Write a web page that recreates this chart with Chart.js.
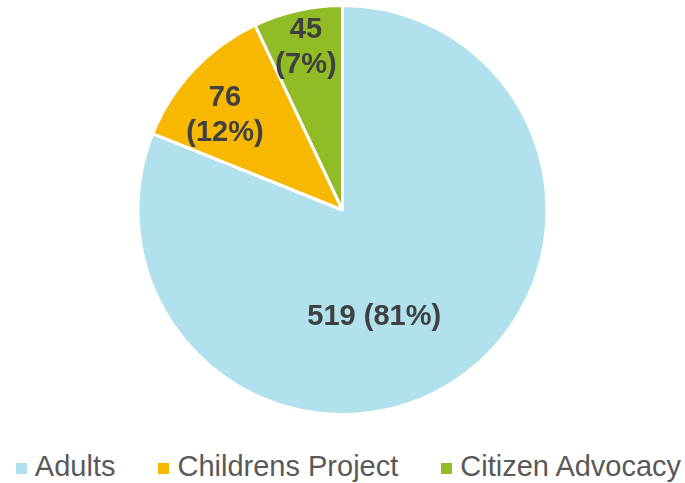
<!DOCTYPE html>
<html>
<head>
<meta charset="utf-8">
<script src="https://cdn.jsdelivr.net/npm/chart.js@4.4.1/dist/chart.umd.min.js"></script>
<style>
  html, body { margin: 0; padding: 0; background: #fff; }
  #wrap { width: 685px; height: 483px; position: relative; }
  #chartBox { width: 685px; height: 420px; position: relative; }
  #legend {
    display: flex; justify-content: center; align-items: center;
    height: 63px; padding-left: 12px; padding-top: 29px; box-sizing: border-box;
    font-family: "Liberation Sans", Arial, sans-serif; font-size: 29px; color: #595959;
  }
  #legend .item { display: flex; align-items: center; margin-right: 43px; }
  #legend .item:last-child { margin-right: 0; }
  #legend .box { width: 11px; height: 11px; margin-right: 8px; margin-top: 4px; }
</style>
</head>
<body>
<div id="wrap">
  <div id="chartBox"><canvas id="pieChart"></canvas></div>
  <div id="legend"></div>
</div>
<script>
const categories = ['Adults', 'Childrens Project', 'Citizen Advocacy'];
const counts = [519, 76, 45];
const colors = ['#B1E1EC', '#F9B800', '#92BC26'];

// where each label sits inside its slice: fraction of the sweep, fraction of the radius
const labelAngle = [0.56, 0.40, 0.50];
const labelRadius = [0.545, 0.74, 0.815];
const labelSplit = [false, true, true];

const total = counts.reduce((a, b) => a + b, 0);

const sliceLabels = {
  id: 'sliceLabels',
  afterDatasetsDraw(chart) {
    const ctx = chart.ctx;
    const meta = chart.getDatasetMeta(0);
    ctx.save();
    ctx.font = 'bold 29px "Liberation Sans", Arial, sans-serif';
    ctx.fillStyle = '#404040';
    ctx.textAlign = 'center';
    ctx.textBaseline = 'middle';
    meta.data.forEach((arc, i) => {
      const p = arc.getProps(['x', 'y', 'startAngle', 'endAngle', 'outerRadius'], true);
      const a = p.startAngle + labelAngle[i] * (p.endAngle - p.startAngle);
      const r = labelRadius[i] * p.outerRadius;
      const x = p.x + Math.cos(a) * r;
      const y = p.y + Math.sin(a) * r;
      const v = counts[i];
      const pct = '(' + Math.round(v / total * 100) + '%)';
      if (labelSplit[i]) {
        ctx.fillText(String(v), x, y - 17);
        ctx.fillText(pct, x, y + 18);
      } else {
        ctx.fillText(v + ' ' + pct, x, y);
      }
    });
    ctx.restore();
  }
};

var pieChart = new Chart(document.getElementById('pieChart'), {
  type: 'pie',
  data: {
    labels: categories,
    datasets: [{
      data: counts,
      backgroundColor: colors,
      borderColor: '#ffffff',
      borderWidth: 3
    }]
  },
  options: {
    responsive: true,
    maintainAspectRatio: false,
    animation: false,
    layout: { padding: { top: 4, bottom: 4 } },
    plugins: {
      legend: { display: false },
      tooltip: { enabled: false }
    }
  },
  plugins: [sliceLabels]
});

// legend row under the pie
const legend = document.getElementById('legend');
categories.forEach((name, i) => {
  const item = document.createElement('span');
  item.className = 'item';
  const box = document.createElement('span');
  box.className = 'box';
  box.style.background = colors[i];
  item.appendChild(box);
  item.appendChild(document.createTextNode(name));
  legend.appendChild(item);
});
</script>
</body>
</html>
